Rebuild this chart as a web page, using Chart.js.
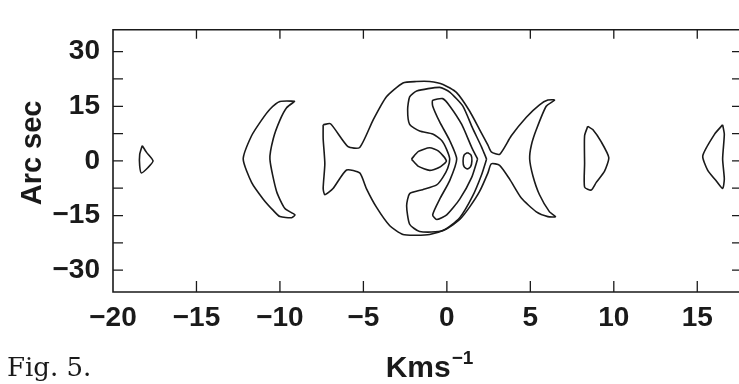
<!DOCTYPE html>
<html>
<head>
<meta charset="utf-8">
<script src="https://cdn.jsdelivr.net/npm/chart.js@4.4.0/dist/chart.umd.min.js"></script>
<style>
  html, body { margin: 0; padding: 0; background: #fff; }
  #wrap { position: relative; width: 739px; height: 384px; }
</style>
</head>
<body>
<div id="wrap"><canvas id="chart"></canvas></div>
<script>
/* Axis ticks */
const xTicks = [-20, -15, -10, -5, 0, 5, 10, 15];
const yTicks = [-30, -22.5, -15, -7.5, 0, 7.5, 15, 22.5, 30];
const yLabelled = [-30, -15, 0, 15, 30];

/* Contours as [km/s, arcsec] pairs */
const farLeftBlob = [
    [-18.25, 4.2], [-18.0, 2.4], [-17.6, 0.0], [-17.9, -1.8], [-18.3, -3.3],
    [-18.4, -1.4], [-18.4, 1.8]
];
const leftCrescent = [
    [-9.1, 16.4], [-10.0, 16.3], [-10.6, 14.2], [-11.1, 11.2], [-11.7, 6.9],
    [-12.2, 0.5], [-11.7, -5.9], [-11.0, -10.5], [-10.4, -13.6], [-10.0, -15.3],
    [-9.3, -15.6], [-9.1, -14.8], [-9.7, -13.1], [-10.2, -8.4], [-10.6, 0.5],
    [-10.4, 6.1], [-10.0, 11.2], [-9.6, 14.6]
];
const outerContour = [
    [-7.41, 9.9], [-6.97, 10.2], [-5.92, 3.9], [-5.22, 3.7], [-4.42, 11.2],
    [-3.62, 17.6], [-2.63, 21.4], [-1.83, 21.8], [-1.03, 21.8], [-0.23, 21.0],
    [0.57, 18.8], [1.36, 13.7], [1.96, 8.6], [2.46, 4.3], [2.66, 2.5],
    [3.16, 1.8], [3.86, 6.9], [4.76, 12.0], [5.55, 15.4], [6.05, 16.7],
    [6.45, 16.7], [5.95, 15.0], [5.36, 8.6], [5.06, 4.3], [4.96, 0.5],
    [5.16, -4.2], [5.55, -9.3], [6.15, -14.0], [6.51, -15.3], [6.05, -15.3],
    [5.36, -14.0], [4.46, -10.2], [3.76, -5.0], [3.16, -1.2], [2.66, -0.8],
    [2.46, -3.3], [1.96, -8.4], [1.36, -12.7], [0.77, -16.1], [-0.03, -18.7],
    [-1.03, -20.2], [-1.83, -20.4], [-2.63, -20.2], [-3.42, -17.8], [-4.22, -12.7],
    [-4.82, -7.6], [-5.22, -3.3], [-6.01, -2.5], [-6.82, -7.6], [-7.31, -9.3],
    [-7.41, -7.6], [-7.31, -0.8], [-7.41, 6.1]
];
const innerRing = [
    [2.38, 0.5], [2.08, -3.8], [1.54, -9.7], [0.77, -15.6], [-0.25, -19.2],
    [-1.63, -19.4], [-2.23, -17.4], [-2.41, -12.3], [-2.23, -9.0], [-1.45, -7.9],
    [-0.61, -6.6], [-0.25, -4.6], [0.05, -2.0], [0.17, 0.5], [-0.01, 3.1],
    [-0.31, 5.6], [-0.85, 7.4], [-1.63, 8.2], [-2.23, 10.0], [-2.35, 14.1],
    [-2.23, 17.6], [-1.81, 19.2], [-0.43, 20.2], [0.17, 18.9], [0.95, 15.1],
    [1.54, 9.0], [2.08, 3.8]
];
const innerCrescent = [
    [1.84, 0.5], [1.48, -4.6], [0.77, -10.5], [-0.01, -14.8], [-0.61, -16.1],
    [-0.85, -14.8], [-0.43, -10.5], [0.17, -5.4], [0.59, 0.5], [0.17, 5.6],
    [-0.43, 10.7], [-0.85, 15.1], [-0.85, 16.6], [-0.25, 17.1], [0.17, 15.1],
    [0.89, 10.0], [1.48, 3.8]
];
const centralLens = [
    [-2.12, 0.5], [-1.7, 2.6], [-1.03, 3.6], [-0.5, 2.7], [-0.03, 0.0],
    [-0.5, -1.9], [-1.03, -2.6], [-1.7, -1.5]
];
const smallCore = [
    [1.23, 2.3], [1.45, 1.6], [1.5, 0.0], [1.42, -1.6], [1.23, -2.2],
    [1.03, -1.6], [0.97, 0.0], [1.03, 1.6]
];
const rightBlob = [
    [8.44, 9.5], [8.74, 8.6], [9.25, 5.2], [9.7, 0.9], [9.44, -2.9],
    [8.95, -5.9], [8.65, -8.0], [8.25, -7.2], [8.25, -0.8], [8.25, 6.9]
];
const farRightBlob = [
    [16.52, 9.9], [16.03, 7.3], [15.33, 1.4], [15.62, -2.5], [16.12, -5.4],
    [16.52, -7.6], [16.62, -5.0], [16.52, 0.5], [16.62, 7.3]
];

const contours = [farLeftBlob, leftCrescent, outerContour, innerRing,
    innerCrescent, centralLens, smallCore, rightBlob, farRightBlob];

const fmt = v => (v < 0 ? '\u2212' + Math.abs(v) : String(v));
const ink = '#1a1a1a';

// frame, inward ticks and the hand-placed titles
const frameAndTitles = {
    id: 'frameAndTitles',
    afterDatasetsDraw(chart) {
        const { ctx, chartArea: a, scales: { x, y } } = chart;
        ctx.save();
        ctx.strokeStyle = ink;
        ctx.lineWidth = 1.6;
        ctx.beginPath();
        ctx.moveTo(a.right + 2, a.top);
        ctx.lineTo(a.left, a.top);
        ctx.lineTo(a.left, a.bottom);
        ctx.lineTo(a.right + 2, a.bottom);
        ctx.stroke();

        ctx.lineWidth = 1.3;
        ctx.beginPath();
        xTicks.forEach(v => {
            if (v <= x.min) return;
            const px = x.getPixelForValue(v);
            ctx.moveTo(px, a.bottom); ctx.lineTo(px, a.bottom - 11);
            ctx.moveTo(px, a.top); ctx.lineTo(px, a.top + 9);
        });
        yTicks.forEach(v => {
            const py = y.getPixelForValue(v);
            ctx.moveTo(a.left, py); ctx.lineTo(a.left + 10, py);
            ctx.moveTo(a.right, py); ctx.lineTo(a.right - 7, py);
        });
        ctx.stroke();

        ctx.fillStyle = ink;
        // y title
        ctx.save();
        ctx.translate(33, (a.top + a.bottom) / 2 - 8);
        ctx.rotate(-Math.PI / 2);
        ctx.textAlign = 'center';
        ctx.textBaseline = 'middle';
        ctx.font = 'bold 29px "Liberation Sans", Arial, sans-serif';
        ctx.fillText('Arc sec', 0, 0);
        ctx.restore();

        // x title with superscript
        ctx.textBaseline = 'alphabetic';
        ctx.textAlign = 'left';
        ctx.font = 'bold 30px "Liberation Sans", Arial, sans-serif';
        const main = 'Kms';
        const wMain = ctx.measureText(main).width;
        ctx.font = 'bold 19px "Liberation Sans", Arial, sans-serif';
        const sup = '\u22121';
        const wSup = ctx.measureText(sup).width;
        const cx = (a.left + a.right) / 2 + 3;
        const x0 = cx - (wMain + wSup) / 2;
        ctx.font = 'bold 30px "Liberation Sans", Arial, sans-serif';
        ctx.fillText(main, x0, 377);
        ctx.font = 'bold 19px "Liberation Sans", Arial, sans-serif';
        ctx.fillText(sup, x0 + wMain + 1, 364);

        // caption
        ctx.font = '26px "DejaVu Serif", serif';
        ctx.fillText('Fig. 5.', 7, 376);
        ctx.restore();
    }
};

const ctx = document.getElementById('chart').getContext('2d');
new Chart(ctx, {
    type: 'scatter',
    data: {
        datasets: contours.map(c => ({
            data: c.concat([c[0]]).map(([x, y]) => ({ x, y })),
            showLine: true,
            borderColor: ink,
            borderWidth: 1.6,
            pointRadius: 0,
            tension: 0.2,
            fill: false
        }))
    },
    options: {
        responsive: true,
        maintainAspectRatio: false,
        animation: false,
        layout: { padding: { top: 11, right: 0, left: 0, bottom: 0 } },
        plugins: { legend: { display: false }, tooltip: { enabled: false } },
        scales: {
            x: {
                type: 'linear', min: -20, max: 17.5,
                afterBuildTicks: s => { s.ticks = xTicks.map(v => ({ value: v })); },
                afterFit: s => { s.height = 92; },
                grid: { display: false, drawTicks: false },
                border: { display: false },
                ticks: {
                    padding: 9, color: ink, maxRotation: 0, autoSkip: false,
                    font: { family: '"Liberation Sans", Arial, sans-serif', size: 28, weight: 'bold' },
                    callback: v => fmt(v)
                }
            },
            y: {
                type: 'linear', min: -36, max: 36,
                afterBuildTicks: s => { s.ticks = yLabelled.map(v => ({ value: v })); },
                afterFit: s => { s.width = 113; },
                grid: { display: false, drawTicks: false },
                border: { display: false },
                ticks: {
                    padding: 13, color: ink, autoSkip: false,
                    font: { family: '"Liberation Sans", Arial, sans-serif', size: 28, weight: 'bold' },
                    callback: v => fmt(v)
                }
            }
        }
    },
    plugins: [frameAndTitles]
});
</script>
</body>
</html>
